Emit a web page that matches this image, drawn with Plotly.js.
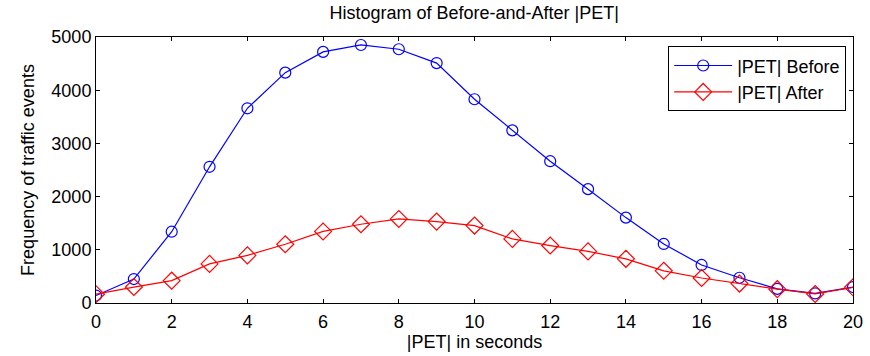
<!DOCTYPE html>
<html>
<head>
<meta charset="utf-8">
<script src="https://cdn.plot.ly/plotly-3.0.1.min.js"></script>
<style>
  html, body { margin: 0; padding: 0; background: #fff; }
  #chart { width: 870px; height: 356px; }
</style>
</head>
<body>
<div id="chart"></div>
<script>
// |PET| bins in seconds
const petSeconds = [0, 1, 2, 3, 4, 5, 6, 7, 8, 9, 10, 11, 12, 13, 14, 15, 16, 17, 18, 19, 20];

// Frequency of traffic events per bin
const countsBefore = [140, 450, 1340, 2560, 3660, 4330, 4720, 4850, 4770, 4510, 3830, 3245, 2665, 2140, 1605, 1110, 715, 475, 265, 180, 300];
const countsAfter  = [165, 300, 420, 735, 895, 1105, 1345, 1480, 1580, 1530, 1455, 1205, 1080, 970, 830, 605, 470, 365, 260, 170, 295];

const xTicks = [0, 2, 4, 6, 8, 10, 12, 14, 16, 18, 20];
const yTicks = [0, 1000, 2000, 3000, 4000, 5000];

const font = "Liberation Sans, Arial, sans-serif";

const traces = [
  {
    x: petSeconds, y: countsBefore, name: "|PET| Before",
    type: "scatter", mode: "lines+markers",
    line: { color: "#0000ff", width: 1.2 },
    marker: { symbol: "circle-open", size: 11, color: "#0000ff", line: { width: 1.2, color: "#0000ff" } }
  },
  {
    x: petSeconds, y: countsAfter, name: "|PET| After",
    type: "scatter", mode: "lines+markers",
    line: { color: "#ff0000", width: 1.2 },
    marker: { symbol: "diamond-open", size: 13, color: "#ff0000", line: { width: 1.2, color: "#ff0000" } }
  }
];

const axisCommon = {
  showgrid: false, zeroline: false,
  showline: true, linecolor: "#000", linewidth: 1, mirror: "ticks",
  ticks: "inside", ticklen: 4, tickcolor: "#000", tickwidth: 1,
  tickfont: { family: font, size: 18, color: "#000" }
};

const layout = {
  width: 870, height: 356,
  margin: { l: 96, r: 17, t: 37, b: 53 },
  paper_bgcolor: "#fff", plot_bgcolor: "#fff",
  font: { family: font, color: "#000" },
  title: {
    text: "Histogram of Before-and-After |PET|",
    font: { family: font, size: 18, color: "#000" },
    x: 0.545, xanchor: "center", y: 0.963, yanchor: "middle"
  },
  xaxis: Object.assign({}, axisCommon, {
    range: [0, 20], tickvals: xTicks, ticklabelstandoff: 2,
    title: { text: "|PET| in seconds", font: { family: font, size: 18, color: "#000" }, standoff: 4 }
  }),
  yaxis: Object.assign({}, axisCommon, {
    range: [0, 5000], tickvals: yTicks,
    title: { text: "Frequency of traffic events", font: { family: font, size: 18, color: "#000" }, standoff: 12 }
  }),
  legend: {
    x: 0.991, xanchor: "right", y: 0.965, yanchor: "top",
    bgcolor: "#fff", bordercolor: "#000", borderwidth: 1,
    font: { family: font, size: 18, color: "#000" },
    itemwidth: 58, tracegroupgap: 0
  },
  showlegend: true
};

Plotly.newPlot("chart", traces, layout, { staticPlot: true, displayModeBar: false });
</script>
</body>
</html>
